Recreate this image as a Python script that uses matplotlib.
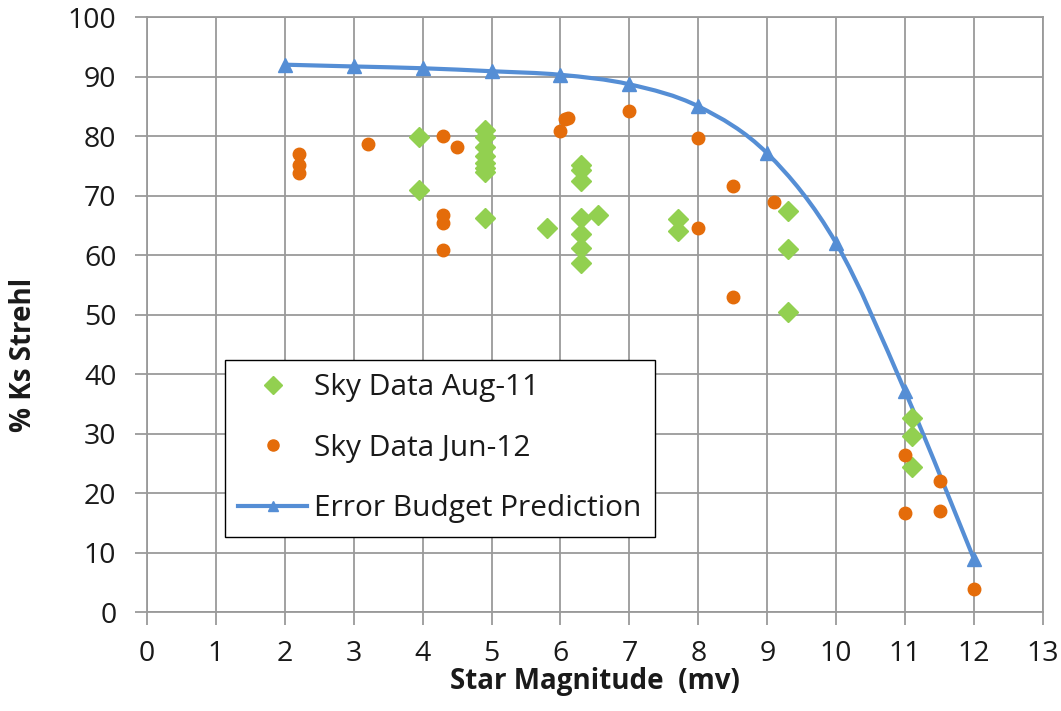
import matplotlib
matplotlib.use("Agg")
import matplotlib.pyplot as plt
from matplotlib.path import Path
from matplotlib.patches import PathPatch
from matplotlib.lines import Line2D
import numpy as np

plt.rcParams['font.family'] = ['Open Sans', 'DejaVu Sans']

# Sky Data Aug-11 (green diamonds)
aug_x = [3.95, 3.95, 4.9, 4.9, 4.9, 4.9, 4.9, 4.9, 4.9, 4.9,
         5.8, 6.3, 6.3, 6.3, 6.3, 6.3, 6.3, 6.3, 6.55,
         7.7, 7.7, 9.3, 9.3, 9.3, 11.1, 11.1, 11.1]
aug_y = [79.8, 70.9, 81.0, 79.8, 78.2, 76.6, 75.5, 74.6, 74.0, 66.2,
         64.6, 75.2, 74.3, 72.4, 66.3, 63.5, 61.2, 58.7, 66.8,
         66.0, 64.1, 67.5, 61.1, 50.4, 32.6, 29.6, 24.4]

# Sky Data Jun-12 (orange circles)
jun_x = [2.2, 2.2, 2.2, 3.2, 4.3, 4.5, 4.3, 4.3, 4.3,
         6.07, 6.11, 6.0, 7.0, 8.0, 8.0, 8.5, 8.5, 9.1,
         11.0, 11.0, 11.5, 11.5, 12.0]
jun_y = [77.0, 75.2, 73.8, 78.6, 80.0, 78.1, 66.7, 65.4, 60.8,
         82.8, 83.0, 80.8, 84.2, 79.7, 64.6, 71.6, 53.0, 69.0,
         26.4, 16.7, 22.1, 17.0, 3.9]

# Error Budget Prediction (blue line with triangles)
pred_x = [2, 3, 4, 5, 6, 7, 8, 9, 10, 11, 12]
pred_y = [92.0, 91.7, 91.4, 90.9, 90.3, 88.7, 85.0, 77.1, 62.0, 37.1, 8.9]

x_ticks = list(range(0, 14))
y_ticks = list(range(0, 101, 10))

GREEN = '#92D050'
ORANGE = '#E46C0A'
BLUE = '#558ED5'
GRID = '#9A9A9A'
TXT = '#1a1a1a'

fig = plt.figure(figsize=(10.61, 7.11), dpi=100)
ax = fig.add_axes([0.1385, 0.1388, 0.8445, 0.8372])

ax.set_xlim(0, 13)
ax.set_ylim(0, 100)
ax.set_xticks(x_ticks)
ax.set_yticks(y_ticks)
ax.grid(True, color=GRID, linewidth=1.3)
ax.set_axisbelow(True)
for s in ax.spines.values():
    s.set_color(GRID)
    s.set_linewidth(1.3)
ax.tick_params(axis='both', length=9, width=1.3, color=GRID,
               labelsize=20.5, labelcolor=TXT)
ax.tick_params(axis='x', pad=11)
ax.tick_params(axis='y', pad=13)

# smoothed line (Excel-style Bezier)
px = np.array(pred_x, float)
py = np.array(pred_y, float)
n = len(px)
verts = [(px[0], py[0])]
codes = [Path.MOVETO]
for i in range(n - 1):
    p0 = np.array([px[max(i - 1, 0)], py[max(i - 1, 0)]])
    p1 = np.array([px[i], py[i]])
    p2 = np.array([px[i + 1], py[i + 1]])
    p3 = np.array([px[min(i + 2, n - 1)], py[min(i + 2, n - 1)]])
    c1 = p1 + (p2 - p0) / 6.0
    c2 = p2 - (p3 - p1) / 6.0
    verts += [tuple(c1), tuple(c2), tuple(p2)]
    codes += [Path.CURVE4, Path.CURVE4, Path.CURVE4]
ax.add_patch(PathPatch(Path(verts, codes), facecolor='none', edgecolor=BLUE,
                       linewidth=3, zorder=3))
ax.plot(pred_x, pred_y, linestyle='none', marker='^', color=BLUE,
        markersize=10, zorder=4)

ax.plot(aug_x, aug_y, linestyle='none', marker='D', color=GREEN,
        markersize=10, zorder=5)
ax.plot(jun_x, jun_y, linestyle='none', marker='o', color=ORANGE,
        markersize=9, zorder=6)

ax.set_xlabel('Star Magnitude  (mv)', fontsize=20, fontweight='bold', color=TXT)
ax.set_ylabel('% Ks Strehl', fontsize=20, fontweight='bold', color=TXT)
ax.xaxis.set_label_coords(0.5, -0.128)
ax.xaxis.label.set_verticalalignment('baseline')
ax.yaxis.set_label_coords(-0.138, 0.432)
ax.yaxis.label.set_verticalalignment('center')

handles = [
    Line2D([], [], linestyle='none', marker='D', color=GREEN, markersize=9),
    Line2D([], [], linestyle='none', marker='o', color=ORANGE, markersize=8),
    Line2D([], [], color=BLUE, linewidth=3, marker='^', markersize=7),
]
labels = ['Sky Data Aug-11', 'Sky Data Jun-12', 'Error Budget Prediction']
leg = ax.legend(handles, labels, loc='upper left',
                bbox_to_anchor=(0.087, 0.424), bbox_transform=ax.transAxes,
                borderaxespad=0,
                fontsize=21.5, frameon=True, fancybox=False, edgecolor='#000000',
                framealpha=1, handlelength=2.3, labelspacing=1.05,
                borderpad=0.45, handletextpad=0.25)
leg.get_frame().set_linewidth(1.0)
for t in leg.get_texts():
    t.set_color(TXT)

fig.savefig('out.png', dpi=100, facecolor='white')
